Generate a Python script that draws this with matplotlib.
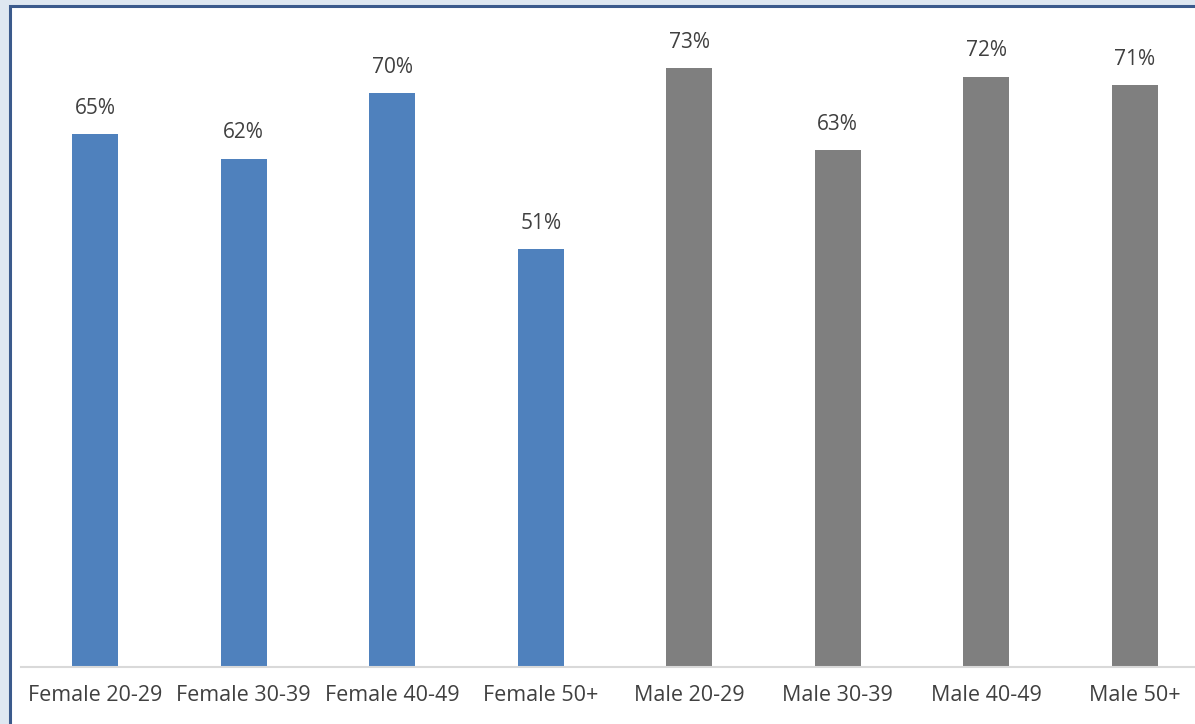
import matplotlib.pyplot as plt
from matplotlib.patches import Rectangle

groups = ["Female 20-29", "Female 30-39", "Female 40-49", "Female 50+",
          "Male 20-29", "Male 30-39", "Male 40-49", "Male 50+"]
values = [0.65, 0.62, 0.70, 0.51, 0.73, 0.63, 0.72, 0.71]
colors = ["#4F81BD"] * 4 + ["#7F7F7F"] * 4

plt.rcParams["font.family"] = ["Open Sans", "DejaVu Sans"]

W, H = 1195, 724
fig = plt.figure(figsize=(W / 100, H / 100), dpi=100)
fig.patch.set_facecolor("#DEE7F1")

# white panel with dark blue frame (cut off on right and bottom)
panel = Rectangle((10 / W, -0.1), 1.2, 1.1 - 6 / H, transform=fig.transFigure,
                  facecolor="white", edgecolor="#3B5A8C", linewidth=2.2, zorder=-5)
fig.patches.append(panel)

# plot area: baseline at y=667px, 80% at y=11px, extends past the right edge
left, right = 21, 1209
base, top = 667, 11
ax = fig.add_axes([left / W, (H - base) / H, (right - left) / W, (base - top) / H])
ax.set_facecolor("none")
ax.set_zorder(1)

x = range(len(groups))
bars = ax.bar(x, values, width=0.31, color=colors, zorder=2)
ax.set_xlim(-0.5, len(groups) - 0.5)
ax.set_ylim(0, 0.8)

for b, v in zip(bars, values):
    ax.annotate(f"{round(v * 100)}%", (b.get_x() + b.get_width() / 2, v),
                xytext=(0, 11), textcoords="offset points",
                ha="center", va="bottom", fontsize=15, color="#404040")

ax.set_xticks(list(x))
ax.set_xticklabels(groups, fontsize=15.5, color="#404040")
ax.tick_params(axis="x", length=0, pad=13)
ax.set_yticks([])
for s in ["top", "right", "left"]:
    ax.spines[s].set_visible(False)
ax.spines["bottom"].set_color("#D9D9D9")
ax.spines["bottom"].set_linewidth(1.5)

fig.savefig("out.png", dpi=100, facecolor=fig.get_facecolor())
